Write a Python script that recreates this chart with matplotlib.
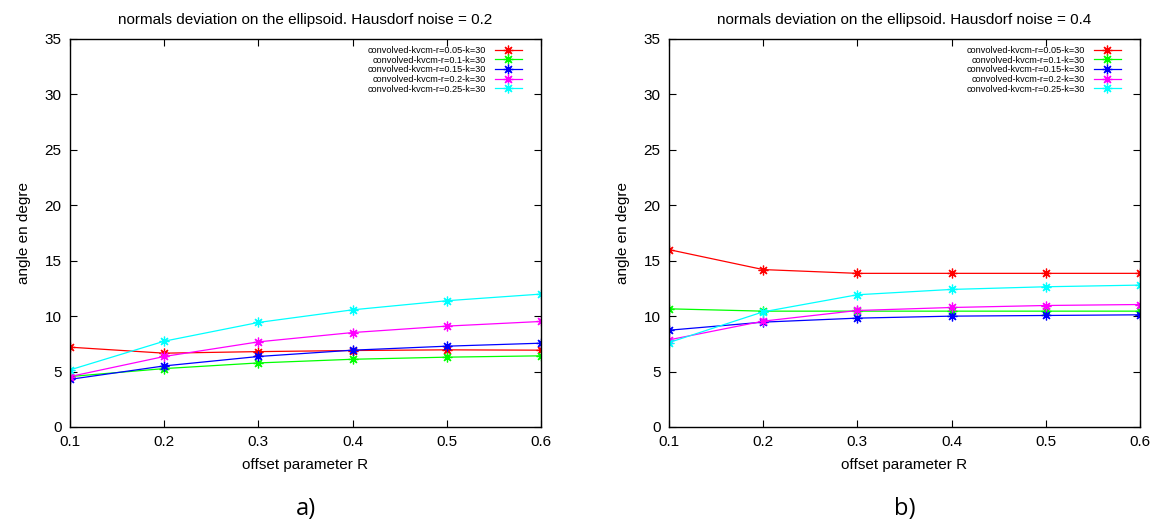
import matplotlib
matplotlib.use("Agg")
import matplotlib.pyplot as plt
import numpy as np

plt.rcParams['font.family'] = ['Liberation Sans', 'DejaVu Sans']

# offset parameter R
offsets = [0.1, 0.2, 0.3, 0.4, 0.5, 0.6]
series_labels = ['convolved-kvcm-r=0.05-k=30', 'convolved-kvcm-r=0.1-k=30',
                 'convolved-kvcm-r=0.15-k=30', 'convolved-kvcm-r=0.2-k=30',
                 'convolved-kvcm-r=0.25-k=30']
colors = ['#ff0000', '#00ff00', '#0000ff', '#ff00ff', '#00ffff']

# noise = 0.2
noise02_r005 = [7.2, 6.66, 6.8, 6.9, 6.96, 6.93]
noise02_r01 = [4.55, 5.27, 5.78, 6.11, 6.3, 6.42]
noise02_r015 = [4.3, 5.51, 6.36, 6.93, 7.29, 7.56]
noise02_r02 = [4.55, 6.36, 7.68, 8.52, 9.1, 9.52]
noise02_r025 = [5.15, 7.74, 9.43, 10.57, 11.39, 11.99]

# noise = 0.4
noise04_r005 = [16.0, 14.2, 13.86, 13.86, 13.86, 13.86]
noise04_r01 = [10.66, 10.45, 10.45, 10.45, 10.45, 10.45]
noise04_r015 = [8.73, 9.46, 9.82, 10.0, 10.06, 10.12]
noise04_r02 = [7.86, 9.55, 10.51, 10.78, 10.96, 11.05]
noise04_r025 = [7.62, 10.39, 11.93, 12.41, 12.65, 12.8]

panels = [
    ('normals deviation on the ellipsoid. Hausdorf noise = 0.2', 'a)',
     [noise02_r005, noise02_r01, noise02_r015, noise02_r02, noise02_r025]),
    ('normals deviation on the ellipsoid. Hausdorf noise = 0.4', 'b)',
     [noise04_r005, noise04_r01, noise04_r015, noise04_r02, noise04_r025]),
]

fig = plt.figure(figsize=(11.65, 5.24), dpi=100)
lefts = [70 / 1165, 669 / 1165]
W, H = 1165, 524

for left, (title, tag, data) in zip(lefts, panels):
    ax = fig.add_axes([left, (H - 427) / H, 471 / W, 388 / H])
    for vals, lab, c in zip(data, series_labels, colors):
        ax.plot(offsets, vals, color=c, linewidth=0.9, marker=(8, 2, 0),
                markersize=7, markeredgewidth=0.9, label=lab)
    ax.set_xlim(0.1, 0.6)
    ax.set_ylim(0, 35)
    ax.set_xticks(offsets)
    ax.set_xticklabels(['0.1', '0.2', '0.3', '0.4', '0.5', '0.6'])
    ax.set_yticks(np.arange(0, 36, 5))
    ax.tick_params(direction='in', top=True, right=True, length=5,
                   labelsize=11, pad=6)
    for s in ax.spines.values():
        s.set_linewidth(1.0)
    ax.set_title(title, fontsize=11, pad=11)
    ax.set_xlabel('offset parameter R', fontsize=11, labelpad=6)
    ax.set_ylabel('angle en degre', fontsize=11, labelpad=10)
    ax.legend(loc='upper right', bbox_to_anchor=(0.967, 0.992), frameon=False,
              fontsize=6.6, markerfirst=False, handlelength=2.9,
              labelspacing=0.08, borderaxespad=0.0, handletextpad=1.0)
    ax.text(0.5, -0.18, tag, transform=ax.transAxes, ha='center', va='top',
            fontsize=17, family='Open Sans')

fig.savefig('out.png', dpi=100)
